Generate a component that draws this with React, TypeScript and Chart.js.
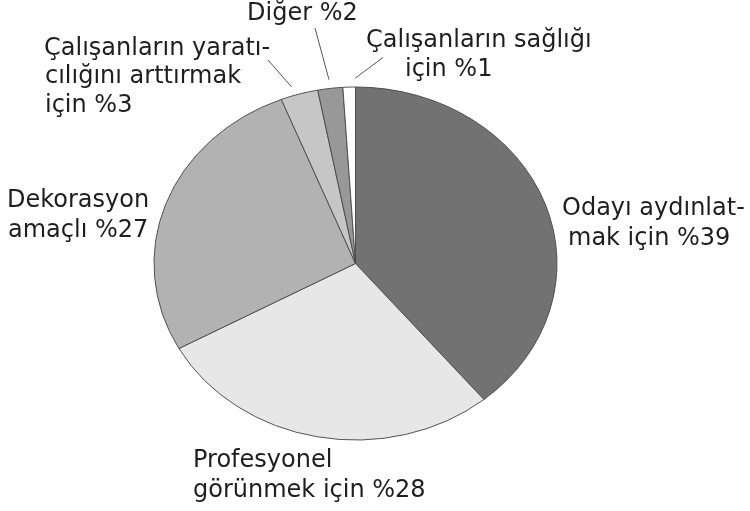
import React, { useEffect, useRef } from "react";
import { Chart, registerables } from "chart.js";

Chart.register(...registerables);

const categories = [
  "Odayı aydınlatmak için",
  "Profesyonel görünmek için",
  "Dekorasyon amaçlı",
  "Çalışanların yaratıcılığını arttırmak için",
  "Diğer",
  "Çalışanların sağlığı için",
];
const values = [39, 28, 27, 3, 2, 1];
const sliceColors = ["#727272", "#e7e7e7", "#b2b2b2", "#c6c6c6", "#989898", "#ffffff"];
const labelLines = [
  ["Odayı aydınlat-", "mak için %39"],
  ["Profesyonel", "görünmek için %28"],
  ["Dekorasyon", "amaçlı %27"],
  ["Çalışanların yaratı-", "cılığını arttırmak", "için %3"],
  ["Diğer %2"],
  ["Çalışanların sağlığı", "için %1"],
];

// label layout (text placement only)
const labelLayout = [
  { xs: [562, 568], y: 215, lh: 30 },
  { xs: [193, 193], y: 467, lh: 29.5 },
  { xs: [7, 8], y: 206.5, lh: 30.5 },
  { xs: [44, 45, 45], y: 55, lh: 28.3 },
  { xs: [247], y: 20, lh: 28 },
  { xs: [366, 405], y: 47, lh: 29 },
];
// leader lines: outer end near the label; inner end computed from the slice
const leaderOuter: Record<number, [number, number]> = {
  3: [268, 60],
  4: [315, 28],
  5: [383, 57.5],
};
// where along the slice (0 = start, 1 = end) the leader points
const leaderFrac: Record<number, number> = { 3: 0.37, 4: 0.5, 5: 0.97 };

const SQUASH = 176.5 / 201.5;

const ellipsePlugin = {
  id: "ellipse",
  beforeDatasetsDraw(chart: any) {
    const arc = chart.getDatasetMeta(0).data[0];
    const ctx = chart.ctx;
    ctx.save();
    ctx.translate(arc.x, arc.y);
    ctx.scale(1, SQUASH);
    ctx.translate(-arc.x, -arc.y);
  },
  afterDatasetsDraw(chart: any) {
    chart.ctx.restore();
  },
};

const labelPlugin = {
  id: "labels",
  afterDraw(chart: any) {
    const ctx = chart.ctx;
    const meta = chart.getDatasetMeta(0);
    ctx.save();
    ctx.strokeStyle = "#555555";
    ctx.lineWidth = 1;
    Object.keys(leaderOuter).forEach((k) => {
      const i = Number(k);
      const a = meta.data[i];
      const f = leaderFrac[i];
      const ang = a.startAngle + (a.endAngle - a.startAngle) * f;
      const r = a.outerRadius + 10;
      const ix = a.x + Math.cos(ang) * r;
      const iy = a.y + Math.sin(ang) * r * SQUASH;
      const [ox, oy] = leaderOuter[i];
      ctx.beginPath();
      ctx.moveTo(ox, oy);
      ctx.lineTo(ix, iy);
      ctx.stroke();
    });
    ctx.fillStyle = "#1e1e1e";
    ctx.font = "24px 'DejaVu Sans'";
    ctx.textBaseline = "alphabetic";
    ctx.textAlign = "left";
    labelLines.forEach((lines, i) => {
      const L = labelLayout[i];
      lines.forEach((t, j) => {
        ctx.fillText(t, L.xs[j], L.y + j * L.lh);
      });
    });
    ctx.restore();
  },
};

export default function App() {
  const ref = useRef<HTMLCanvasElement>(null);
  useEffect(() => {
    if (!ref.current) return;
    const chart = new Chart(ref.current, {
      type: "pie",
      data: {
        labels: categories,
        datasets: [
          {
            data: values,
            backgroundColor: sliceColors,
            borderColor: "#4a4a4a",
            borderWidth: 1,
            clip: false,
          } as any,
        ],
      },
      options: {
        responsive: false,
        animation: false,
        devicePixelRatio: 1,
        layout: { padding: { left: 153.5, right: 192.5, top: 61.5, bottom: 45.5 } },
        plugins: { legend: { display: false }, tooltip: { enabled: false } },
        events: [],
      },
      plugins: [ellipsePlugin, labelPlugin],
    });
    return () => chart.destroy();
  }, []);
  return (
    <div style={{ position: "absolute", left: 0, top: 0, width: 750, height: 511, background: "#fff" }}>
      <canvas ref={ref} width={750} height={511} style={{ display: "block" }} />
    </div>
  );
}
